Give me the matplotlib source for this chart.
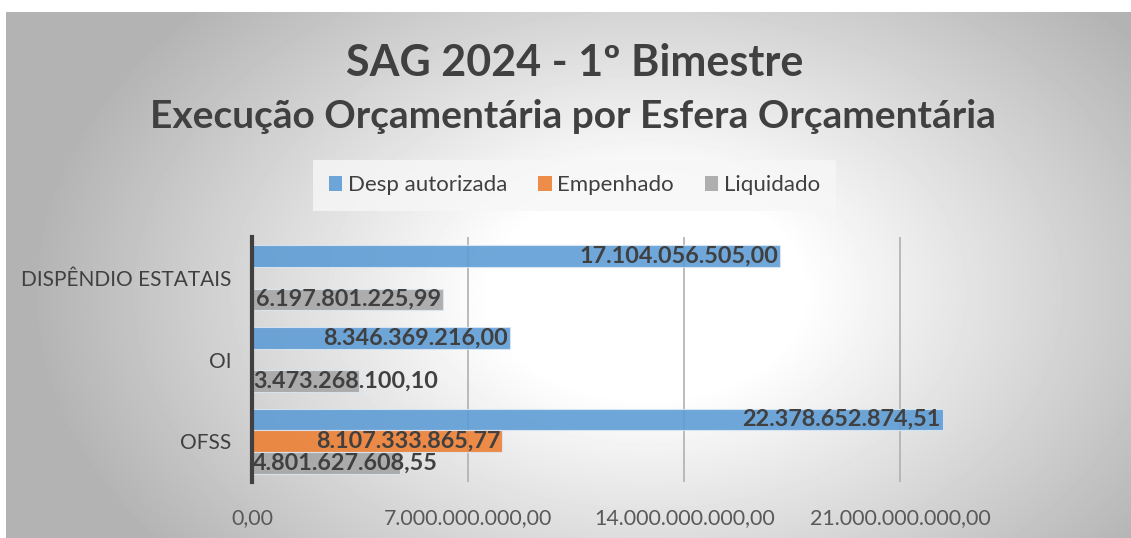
import numpy as np
import matplotlib.pyplot as plt
from matplotlib.patches import Patch

categorias = ['OFSS', 'OI', 'DISPÊNDIO ESTATAIS']
desp_autorizada = [22378652874.51, 8346369216.00, 17104056505.00]
empenhado = [8107333865.77, np.nan, np.nan]
liquidado = [4801627608.55, 3473268100.10, 6197801225.99]
series = ['Desp autorizada', 'Empenhado', 'Liquidado']
cores = ['#5B9BD5', '#ED7D31', '#A5A5A5']
ticks_x = [0, 7e9, 14e9, 21e9]


def fmt_br(v):
    s = f'{v:,.2f}'
    return s.replace(',', 'X').replace('.', ',').replace('X', '.')


plt.rcParams['font.family'] = ['Lato', 'DejaVu Sans']

fig = plt.figure(figsize=(11.31, 5.38), dpi=100)

# fundo com degradê radial
bg = fig.add_axes([6 / 1131, 0, 1 - 6 / 1131, 526 / 538], zorder=-10)
yy, xx = np.mgrid[0:526, 0:1125]
d = np.sqrt(((xx - 640) / 620) ** 2 + ((yy - 280) / 420) ** 2)
g = np.clip(1 - 0.30 * np.clip(d - 0.25, 0, None) / 0.75, 0.70, 1)
bg.imshow(g, cmap='gray', vmin=0, vmax=1, aspect='auto', interpolation='bilinear')
bg.axis('off')

ax = fig.add_axes([252 / 1131, 56 / 538, 710 / 1131, 245 / 538])
ax.patch.set_alpha(0)

y = np.arange(len(categorias))
h = 0.265
offs = [h, 0, -h]
dados = [desp_autorizada, empenhado, liquidado]
for vals, off, cor, nome in zip(dados, offs, cores, series):
    ax.barh(y + off, vals, height=h, color=cor, alpha=0.88, edgecolor='#dce8f4',
            linewidth=0.8, label=nome, zorder=3)

ax.set_xlim(0, 23e9)
ax.set_ylim(-0.5, 2.5)
ax.set_xticks(ticks_x)
ax.set_xticklabels([fmt_br(t) for t in ticks_x], fontsize=15.4, color='#595959')
ax.set_yticks(y)
ax.set_yticklabels(categorias, fontsize=15, color='#404040')
ax.tick_params(axis='x', length=0, pad=19)
ax.tick_params(axis='y', length=0, pad=15)
for t in ticks_x[1:]:
    ax.axvline(t, color='#b0b0b0', lw=1.2, zorder=2.5)
for s in ['top', 'right', 'bottom']:
    ax.spines[s].set_visible(False)
ax.spines['left'].set_color('#404040')
ax.spines['left'].set_linewidth(3)
ax.spines['left'].set_zorder(6)

# rótulos de dados: no fim da barra, ou no início se não couber
fig.canvas.draw()
r = fig.canvas.get_renderer()
inv = ax.transData.inverted()
for vals, off in zip(dados, offs):
    for i, v in enumerate(vals):
        if np.isnan(v):
            continue
        txt = ax.text(v, y[i] + off, fmt_br(v), fontsize=16.8, fontweight='bold',
                      color='#404040', va='center', ha='right', zorder=5)
        w = txt.get_window_extent(r).width
        x0 = ax.transData.transform((0, 0))[0]
        x1 = ax.transData.transform((v, 0))[0]
        if x1 - x0 < w + 4:
            txt.set_ha('left')
            txt.set_x(inv.transform((x0 + 1, 0))[0])
        else:
            txt.set_x(inv.transform((x1 - 2, 0))[0])

fig.text(0.508, 0.883, 'SAG 2024 - 1º Bimestre', ha='center', va='center',
         fontsize=31, fontweight='bold', color='#404040')
fig.text(0.507, 0.783, 'Execução Orçamentária por Esfera Orçamentária', ha='center',
         va='center', fontsize=28, fontweight='bold', color='#404040')

handles = [Patch(facecolor=c, alpha=0.88, label=n) for c, n in zip(cores, series)]
leg = fig.legend(handles=handles, loc='center', bbox_to_anchor=(0.508, 0.656), ncol=3,
                 frameon=True, fontsize=16, handlelength=0.6, handleheight=0.7,
                 handletextpad=0.25, columnspacing=1.4, borderpad=0.7)
leg.get_frame().set_facecolor('#f7f7f7')
leg.get_frame().set_edgecolor('none')
leg.get_frame().set_boxstyle('square', pad=0)
for t in leg.get_texts():
    t.set_color('#404040')

fig.savefig('out.png', dpi=100)
